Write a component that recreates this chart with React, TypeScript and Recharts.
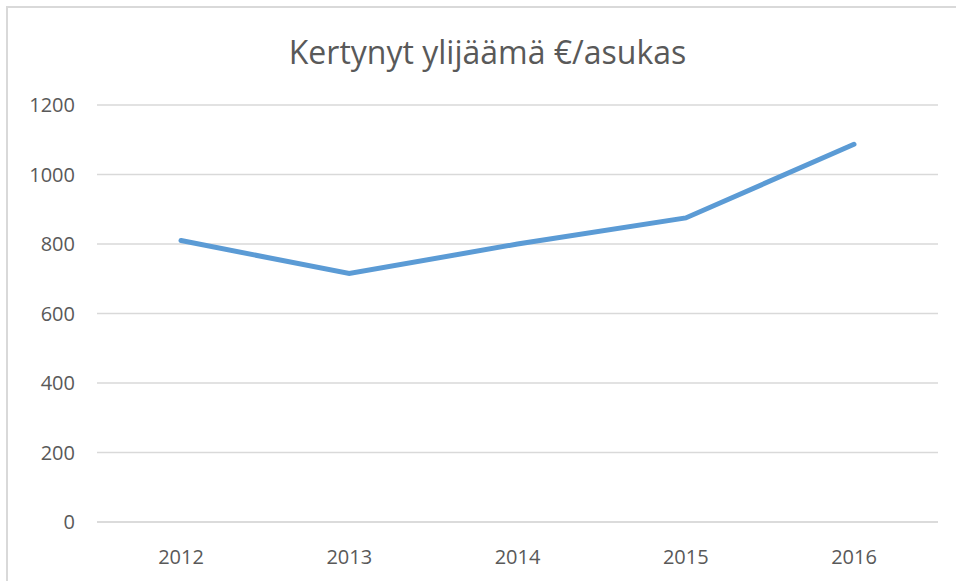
import React from 'react';
import { LineChart, Line, XAxis, YAxis, CartesianGrid } from 'recharts';

const years = ['2012', '2013', '2014', '2015', '2016'];
const surplus = [810, 715, 800, 875, 1087];
const yTicks = [0, 200, 400, 600, 800, 1000, 1200];

const data = years.map((year, i) => ({ year, value: surplus[i] }));

const font = 'Open Sans, Liberation Sans, sans-serif';

export default function App() {
  return <div style={{
    position: 'absolute',
    left: 0,
    top: 0,
    width: 956,
    height: 581,
    background: '#fff',
    overflow: 'hidden',
    fontFamily: font
  }}>
      <div style={{
      position: 'absolute',
      left: 6,
      top: 6,
      width: 960,
      height: 590,
      borderTop: '2px solid #d9d9d9',
      borderLeft: '2px solid #d9d9d9'
    }} />
      <div style={{
      position: 'absolute',
      left: 0,
      width: 975,
      top: 32,
      textAlign: 'center',
      fontSize: 32,
      color: '#595959',
      lineHeight: '40px'
    }}>
        Kertynyt ylijäämä €/asukas
      </div>
      <div style={{ position: 'absolute', left: 0, top: 0 }}>
        <LineChart width={956} height={581} data={data} margin={{
        top: 105,
        right: 18,
        left: 37,
        bottom: 29
      }}>
          <CartesianGrid vertical={false} stroke="#d9d9d9" strokeWidth={1.5} />
          <XAxis dataKey="year" padding={{
          left: 84,
          right: 84
        }} axisLine={{
          stroke: '#d9d9d9',
          strokeWidth: 1.5
        }} tickLine={false} tickMargin={22} height={30} tick={{
          fill: '#595959',
          fontSize: 20,
          fontFamily: font
        }} />
          <YAxis domain={[0, 1200]} ticks={yTicks} width={60} axisLine={false} tickLine={false} tickSize={0} tickMargin={22} tick={{
          fill: '#595959',
          fontSize: 20,
          fontFamily: font
        }} />
          <Line type="linear" dataKey="value" stroke="#5b9bd5" strokeWidth={5} strokeLinecap="round" dot={false} activeDot={false} isAnimationActive={false} />
        </LineChart>
      </div>
    </div>;
}
